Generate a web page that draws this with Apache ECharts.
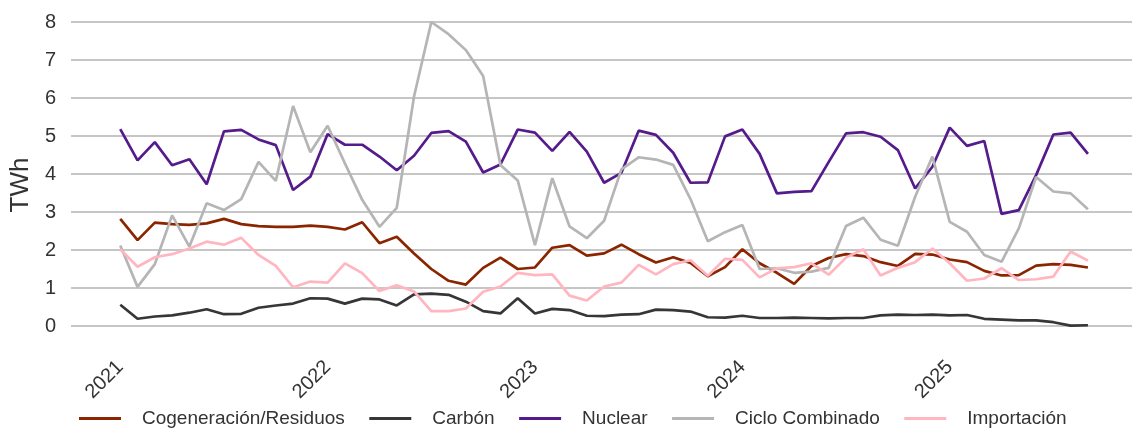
<!DOCTYPE html>
<html>
<head>
<meta charset="utf-8">
<script src="https://cdn.jsdelivr.net/npm/echarts@6/dist/echarts.min.js"></script>
<style>
html,body{margin:0;padding:0;background:#fff;}
#chart{width:1132px;height:428px;}
</style>
</head>
<body>
<div id="chart"></div>
<script>
const months = [
 '2021-01','2021-02','2021-03','2021-04','2021-05','2021-06','2021-07','2021-08','2021-09','2021-10','2021-11','2021-12',
 '2022-01','2022-02','2022-03','2022-04','2022-05','2022-06','2022-07','2022-08','2022-09','2022-10','2022-11','2022-12',
 '2023-01','2023-02','2023-03','2023-04','2023-05','2023-06','2023-07','2023-08','2023-09','2023-10','2023-11','2023-12',
 '2024-01','2024-02','2024-03','2024-04','2024-05','2024-06','2024-07','2024-08','2024-09','2024-10','2024-11','2024-12',
 '2025-01','2025-02','2025-03','2025-04','2025-05','2025-06','2025-07','2025-08','2025-09'
];
const yearLabels = ['2021','2022','2023','2024','2025'];
const yTicks = [0,1,2,3,4,5,6,7,8];

const cogeneracion = [2.82,2.26,2.72,2.68,2.66,2.70,2.82,2.68,2.63,2.61,2.61,2.64,
 2.61,2.54,2.73,2.18,2.35,1.91,1.50,1.19,1.09,1.53,1.80,
 1.50,1.54,2.06,2.13,1.85,1.91,2.14,1.89,1.67,1.81,1.66,1.31,
 1.55,2.02,1.65,1.40,1.11,1.58,1.79,1.89,1.84,1.68,1.58,1.90,
 1.88,1.75,1.68,1.45,1.33,1.34,1.59,1.63,1.61,1.54];
const carbon = [0.56,0.19,0.25,0.28,0.35,0.44,0.31,0.32,0.48,0.54,0.59,0.73,
 0.72,0.59,0.72,0.70,0.54,0.83,0.85,0.82,0.64,0.39,0.33,
 0.73,0.33,0.45,0.42,0.27,0.26,0.30,0.31,0.43,0.42,0.38,0.23,
 0.22,0.27,0.21,0.21,0.22,0.21,0.20,0.21,0.21,0.28,0.30,0.29,
 0.30,0.28,0.29,0.19,0.17,0.15,0.15,0.10,0.01,0.02];
const nuclear = [5.18,4.36,4.84,4.23,4.39,3.73,5.12,5.16,4.91,4.76,3.58,3.93,
 5.05,4.77,4.77,4.46,4.10,4.48,5.08,5.13,4.85,4.04,4.25,
 5.17,5.09,4.61,5.11,4.59,3.77,4.03,5.14,5.03,4.56,3.77,3.78,
 4.99,5.17,4.53,3.49,3.53,3.55,4.32,5.07,5.10,4.98,4.63,3.62,
 4.19,5.22,4.74,4.87,2.95,3.05,3.97,5.04,5.09,4.53];
const cicloCombinado = [2.12,1.03,1.63,2.91,2.09,3.23,3.05,3.34,4.32,3.82,5.79,4.57,
 5.27,4.28,3.32,2.61,3.11,6.04,8.00,7.68,7.26,6.58,4.24,
 3.83,2.13,3.89,2.62,2.31,2.77,4.12,4.44,4.38,4.24,3.34,2.23,
 2.47,2.66,1.50,1.52,1.40,1.43,1.53,2.63,2.85,2.27,2.11,3.40,
 4.46,2.74,2.48,1.87,1.69,2.57,3.92,3.54,3.49,3.07];
const importacion = [2.02,1.56,1.81,1.89,2.04,2.22,2.14,2.32,1.87,1.58,1.02,1.17,
 1.14,1.65,1.39,0.92,1.07,0.91,0.39,0.39,0.46,0.90,1.04,
 1.40,1.34,1.36,0.80,0.67,1.04,1.14,1.61,1.36,1.63,1.73,1.32,
 1.77,1.74,1.28,1.52,1.55,1.65,1.35,1.80,2.02,1.33,1.53,1.68,
 2.04,1.65,1.19,1.25,1.52,1.21,1.23,1.30,1.96,1.72];

const seriesDefs = [
  {name:'Cogeneración/Residuos', data:cogeneracion, color:'#8B2500'},
  {name:'Carbón', data:carbon, color:'#363636'},
  {name:'Nuclear', data:nuclear, color:'#551A8B'},
  {name:'Ciclo Combinado', data:cicloCombinado, color:'#B5B5B5'},
  {name:'Importación', data:importacion, color:'#FFB6C1'}
];

const yearIdx = yearLabels.map(y => months.indexOf(y + '-01'));
const FONT = "'Liberation Sans', Arial, sans-serif";

const chart = echarts.init(document.getElementById('chart'), null, {renderer:'canvas'});
chart.setOption({
  animation:false,
  backgroundColor:'#ffffff',
  grid:{left:70.5, right:0, top:22, bottom:102, containLabel:false},
  xAxis:{
    type:'value',
    min:-2.85, max:58.55,
    axisLine:{show:false},
    axisTick:{show:false},
    splitLine:{show:false},
    axisLabel:{
      customValues: yearIdx,
      formatter: v => yearLabels[yearIdx.indexOf(Math.round(v))] || '',
      rotate:45, fontSize:20, color:'#333333', fontFamily:FONT, margin:38
    }
  },
  yAxis:{
    type:'value', min:yTicks[0], max:yTicks[yTicks.length-1], interval:1,
    name:'TWh', nameLocation:'middle', nameRotate:90, nameGap:33,
    nameTextStyle:{fontSize:26, color:'#333333', fontFamily:FONT, padding:[0,22,0,0]},
    axisLine:{show:false}, axisTick:{show:false},
    axisLabel:{fontSize:20, color:'#333333', fontFamily:FONT, margin:15},
    splitLine:{lineStyle:{color:'#b3b3b3', width:1.5}}
  },
  legend:{
    left:74, top:404, orient:'horizontal',
    itemWidth:42, itemHeight:3, itemGap:24.5, icon:'rect',
    textStyle:{fontSize:19, color:'#333333', fontFamily:FONT, padding:[0,0,0,16]},
    data: seriesDefs.map(s => s.name)
  },
  series: seriesDefs.map(s => ({
    name:s.name, type:'line', showSymbol:false, symbol:'none', clip:false,
    lineStyle:{width:2.7, color:s.color}, itemStyle:{color:s.color},
    emphasis:{disabled:true},
    data: s.data.map((v,i) => [i, v])
  }))
});
</script>
</body>
</html>
